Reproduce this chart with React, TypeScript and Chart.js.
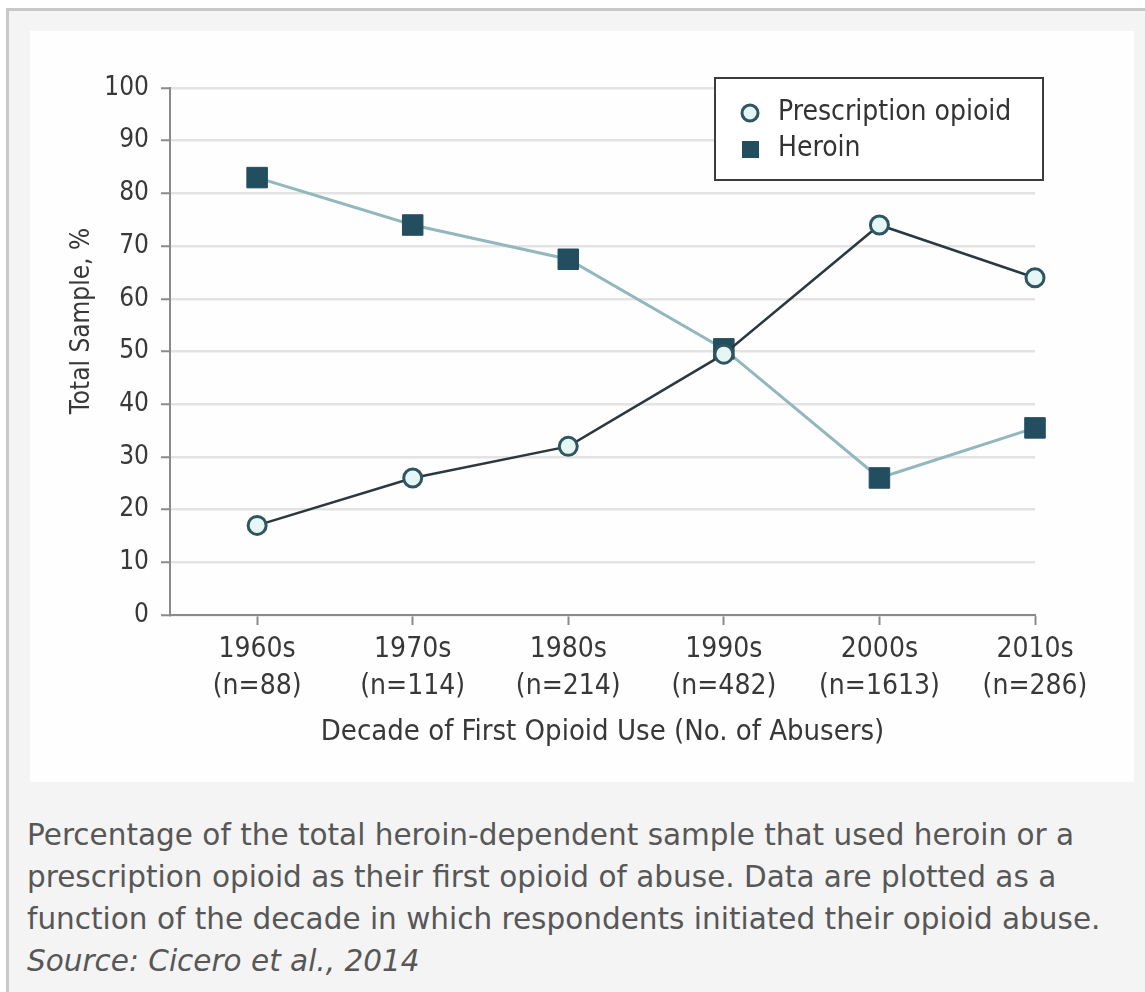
import React, { useEffect, useRef } from "react";
import { Chart, registerables } from "chart.js";

Chart.register(...registerables);

const decades = ["1960s", "1970s", "1980s", "1990s", "2000s", "2010s"];
const sampleSizes = ["(n=88)", "(n=114)", "(n=214)", "(n=482)", "(n=1613)", "(n=286)"];
const prescriptionValues = [17, 26, 32, 49.5, 74, 64];
const heroinValues = [83, 74, 67.5, 50.5, 26, 35.5];
const yTicks = [0, 10, 20, 30, 40, 50, 60, 70, 80, 90, 100];
const seriesLabels = ["Prescription opioid", "Heroin"];
const yTitle = "Total Sample, %";
const xTitle = "Decade of First Opioid Use (No. of Abusers)";

const FONT = "'DejaVu Sans Condensed', 'DejaVu Sans', sans-serif";

const legendPlugin = {
  id: "insideLegend",
  afterDraw(chart: any) {
    const ctx = chart.ctx;
    const x0 = 685, y0 = 47, w = 328, h = 102;
    ctx.save();
    ctx.fillStyle = "#ffffff";
    ctx.fillRect(x0, y0, w, h);
    ctx.strokeStyle = "#3c3c3c";
    ctx.lineWidth = 2;
    ctx.strokeRect(x0, y0, w, h);
    const ds = chart.data.datasets;
    ctx.beginPath();
    ctx.arc(x0 + 35, y0 + 35, 8, 0, Math.PI * 2);
    ctx.fillStyle = ds[0].pointBackgroundColor;
    ctx.fill();
    ctx.lineWidth = 3;
    ctx.strokeStyle = ds[0].pointBorderColor;
    ctx.stroke();
    ctx.fillStyle = ds[1].pointBackgroundColor;
    ctx.fillRect(x0 + 27, y0 + 63, 17, 17);
    ctx.fillStyle = "#333333";
    ctx.font = "28px " + FONT;
    ctx.textBaseline = "middle";
    ctx.textAlign = "left";
    ctx.fillText(ds[0].label, x0 + 63, y0 + 35);
    ctx.fillText(ds[1].label, x0 + 63, y0 + 71);
    // y axis title
    ctx.save();
    ctx.translate(52, 290);
    ctx.rotate(-Math.PI / 2);
    ctx.textAlign = "center";
    ctx.font = "26px " + FONT;
    ctx.fillStyle = "#383838";
    ctx.fillText(yTitle, 0, 0);
    ctx.restore();
    ctx.restore();
  },
};

function ChartView() {
  const ref = useRef<HTMLCanvasElement | null>(null);
  useEffect(() => {
    if (!ref.current) return;
    const chart = new Chart(ref.current, {
      type: "line",
      data: {
        datasets: [
          {
            label: seriesLabels[0],
            data: prescriptionValues.map((v, i) => ({ x: i, y: v })),
            borderColor: "#2c383d",
            borderWidth: 2.5,
            pointStyle: "circle",
            pointRadius: 9,
            pointBorderWidth: 3,
            pointBorderColor: "#2f5660",
            pointBackgroundColor: "#e4f6f6",
            tension: 0,
            clip: false,
          },
          {
            label: seriesLabels[1],
            data: heroinValues.map((v, i) => ({ x: i, y: v })),
            borderColor: "#93b7be",
            borderWidth: 3,
            pointStyle: "rect",
            pointRadius: 14.5,
            pointBorderWidth: 1,
            pointBorderColor: "#234e60",
            pointBackgroundColor: "#234e60",
            tension: 0,
            clip: false,
          },
        ],
      },
      options: {
        animation: false,
        responsive: false,
        events: [],
        layout: { padding: { top: 57, right: 99, left: 0, bottom: 0 } },
        plugins: { legend: { display: false }, tooltip: { enabled: false } },
        scales: {
          x: {
            type: "linear",
            min: -0.56,
            max: 5,
            afterBuildTicks: (s: any) => {
              s.ticks = decades.map((_, i) => ({ value: i }));
            },
            afterFit: (s: any) => {
              s.height = 167;
            },
            grid: {
              drawOnChartArea: false,
              drawTicks: true,
              tickLength: 10,
              tickColor: "#8a8a8a",
              tickWidth: 2,
            },
            border: { display: true, color: "#8a8a8a", width: 2 },
            ticks: {
              autoSkip: false,
              maxRotation: 0,
              padding: 7,
              color: "#383838",
              font: { family: FONT, size: 28, lineHeight: 1.3 },
              callback: (v: any) => {
                const i = Math.round(Number(v));
                return [decades[i], sampleSizes[i]];
              },
            },
            title: {
              display: true,
              text: xTitle,
              color: "#383838",
              font: { family: FONT, size: 29 },
              padding: { top: 0, bottom: 32 },
            },
          },
          y: {
            type: "linear",
            min: 0,
            max: 100,
            afterBuildTicks: (s: any) => {
              s.ticks = yTicks.map((v) => ({ value: v }));
            },
            afterFit: (s: any) => {
              s.width = 140;
            },
            grid: {
              color: "#e3e3e3",
              lineWidth: 2.5,
              drawTicks: true,
              tickLength: 9,
              tickColor: "#8a8a8a",
              tickWidth: 2,
            },
            border: { display: true, color: "#8a8a8a", width: 2 },
            ticks: {
              padding: 12,
              color: "#383838",
              font: { family: FONT, size: 26 },
            },
            title: { display: false },
          },
        },
      },
      plugins: [legendPlugin],
    });
    return () => chart.destroy();
  }, []);
  return <canvas ref={ref} width={1104} height={751} style={{ display: "block" }} />;
}

export default function App() {
  return (
    <div style={{ position: "fixed", left: 0, top: 0, width: 1145, height: 992, background: "#ffffff", overflow: "hidden" }}>
      <div
        style={{
          position: "absolute",
          left: 6,
          top: 8,
          width: 1139,
          height: 984,
          boxSizing: "border-box",
          background: "#f4f4f4",
          borderTop: "3px solid #c8c8c8",
          borderLeft: "3px solid #c8c8c8",
        }}
      />
      <div style={{ position: "absolute", left: 30, top: 31, width: 1104, height: 751, background: "#fefefe" }}>
        <ChartView />
      </div>
      <div
        style={{
          position: "absolute",
          left: 27,
          top: 814,
          fontFamily: "'DejaVu Sans', sans-serif",
          fontSize: 29.5,
          lineHeight: "42px",
          color: "#575757",
          whiteSpace: "nowrap",
        }}
      >
        Percentage of the total heroin-dependent sample that used heroin or a
        <br />
        prescription opioid as their first opioid of abuse. Data are plotted as a
        <br />
        function of the decade in which respondents initiated their opioid abuse.
        <br />
        <i>Source: Cicero et al., 2014</i>
      </div>
    </div>
  );
}
